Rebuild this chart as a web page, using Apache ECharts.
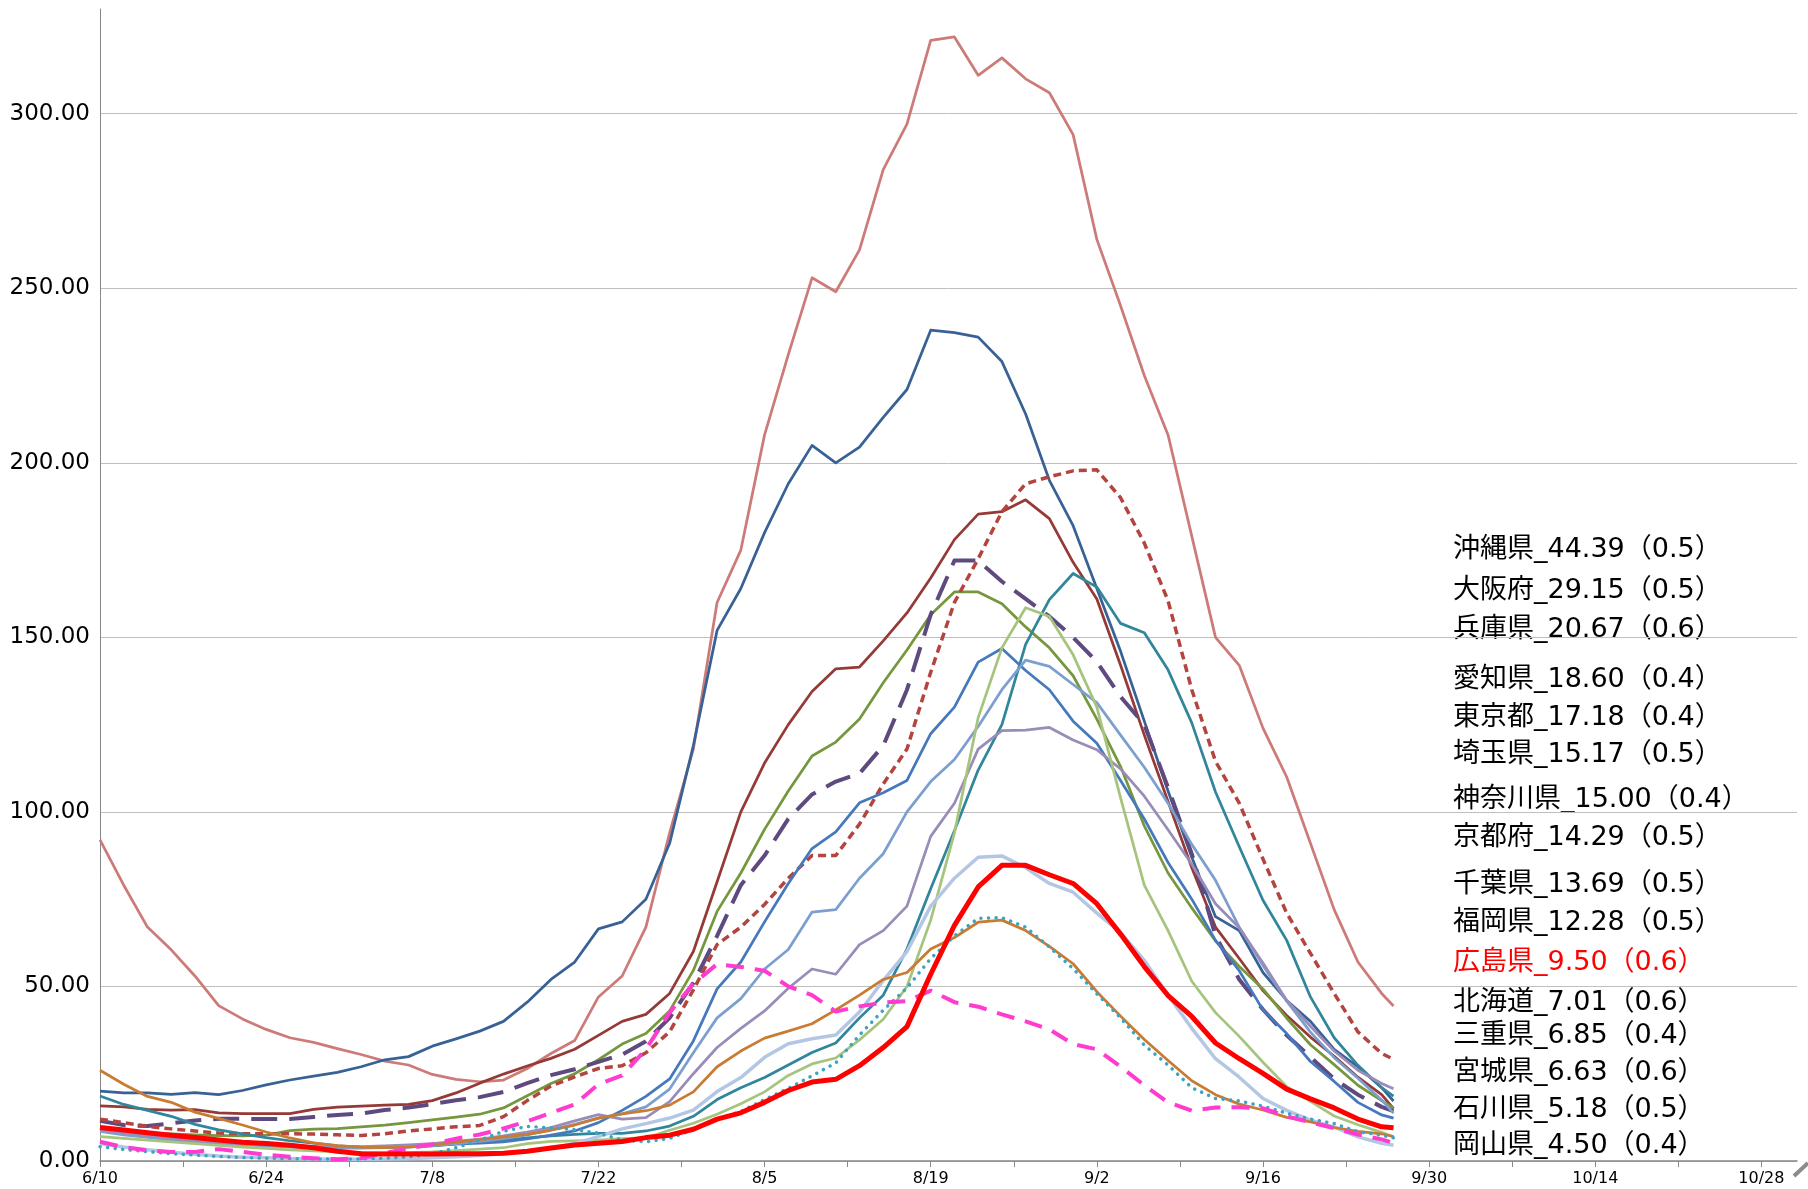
<!DOCTYPE html>
<html>
<head>
<meta charset="utf-8">
<script src="https://cdn.jsdelivr.net/npm/echarts@6/dist/echarts.min.js"></script>
<style>
  html, body { margin: 0; padding: 0; background: #fff; }
  #chart { width: 1808px; height: 1189px; }
</style>
</head>
<body>
<div id="chart"></div>
<script>
// days counted from 6/10 (sampled every 2 days, last point 9/27)
const days = [0,2,4,6,8,10,12,14,16,18,20,22,24,26,28,30,32,34,36,38,40,42,44,46,48,50,52,54,56,58,
  60,62,64,66,68,70,72,74,76,78,80,82,84,86,88,90,92,94,96,98,100,102,104,106,108,109];

// x tick labels, one every 14 days
const tickLabels = ['6/10','6/24','7/8','7/22','8/5','8/19','9/2','9/16','9/30','10/14','10/28'];

const okinawa = [92,79,67,60.5,53,44.5,40.7,37.7,35.3,34,
  32.2,30.5,28.6,27.5,24.8,23.4,22.7,23.2,26.5,30.8,
  34.5,47,53,67,94,118,160,175,208,231,
  253,249,261,284,297,321,322,311,316,310,
  306,294,264,245,225,208,179,150,142,124,
  110,91,72,57,48,44.39];
const tokyo = [20,19.5,19.5,19.1,19.6,19,20.2,21.8,23.2,24.3,
  25.4,27,29,29.9,32.9,35,37.2,40,45.5,52,
  57,66.5,68.5,75,91,119,152,164,180,194,
  205,200,204.5,213,221,238,237.3,236,229,214,
  195,182,164,146,126,106,87,70,66,54,
  46,40,32,27,21,17.18];
const kanagawa = [15.8,15.5,14.8,14.6,14.7,13.8,13.6,13.6,13.6,14.8,
  15.4,15.7,16,16.2,17.3,19.5,22.3,24.9,27.2,29.4,
  32,36,40,42,48,60,80,100,114,125,
  134.5,141,141.5,149,157,167,178,185.3,186,189.4,
  184,171.5,161,142,122,103,84,67,58,48.8,
  41.7,35.5,30,24,19,15.00];
const saitama = [9,8.5,8,7.8,7.5,7.3,7.2,7.4,8.7,9.1,
  9.3,9.8,10.3,11,11.8,12.6,13.4,15.2,18.7,22.2,
  25,29,33.5,36.5,43,54.6,71.5,82.5,95,106,
  116,120,126.6,137,146.4,156.5,163,163,159.6,153,
  147,139,126.6,113,96,82.5,72.5,63,55.7,49.3,
  40.9,33.3,27.6,21.7,17.3,15.17];
const kyoto = [11.5,10.3,10,10.8,11.6,12.1,12.1,12,12,12.6,
  13.2,13.6,14.6,15.3,16.3,17.4,18.3,19.8,22.3,24.6,
  26.3,28.4,30.5,34.3,41,51,64.5,79,87.5,98,
  105,108.7,111,119,135,156.5,172,172,166,161,
  156,150,143,133,125,107,88,64.5,52,43.4,
  36,29.8,23.5,19,15.5,14.29];
const osaka = [12,11,9.9,9.2,8.6,8,7.8,7.8,7.8,7.7,
  7.5,7.3,7.8,8.6,9.2,9.8,10.2,12.7,17.3,21.5,
  24.1,26.5,27.3,31,37,49,62,67,73.5,81,
  87.5,87.5,96.5,108,118,140,160,172.5,186,194,
  196,197.7,198,190,177,160.5,135,114.5,102.5,86.5,
  71,59.5,48,37,30.8,29.15];
const aichi = [18.6,16.2,14.5,12.8,10.5,8.9,7.8,6.7,5.8,5.1,
  4.3,4,3.9,4.1,4.3,5,5.4,5.9,6.6,7.2,
  7.6,7.9,7.9,8.6,10,12.8,17.6,21,23.9,27.5,
  31.1,33.8,41,47.5,60.7,78,94.6,112,125,148,
  160.8,168.3,164.4,154,151.3,140.7,125.5,105.7,90,74.7,
  63.2,47,35.3,27.4,21,18.60];
const fukuoka = [9.6,8.5,7.5,6.6,6,5.4,4.9,4.4,4.1,3.9,
  3.8,3.8,3.9,4.1,4.4,4.8,5.1,5.5,6.3,7.4,
  8.6,11,14.5,18.5,23.5,34.4,49.3,57,68.5,79.5,
  89.5,94.3,102.6,105.5,109,122.4,130,142.9,146.8,140.5,
  135,126,119.7,109,98,85.5,75,63.2,54.5,43.3,
  36.5,28.5,22.8,16.8,13.2,12.28];
const chiba = [8.5,7.5,6.8,6,5.4,5,4.6,4.3,4,3.8,
  3.7,3.7,3.8,4,4.4,5,5.6,6.4,7.5,9,
  10.5,12.3,13.5,15.5,20.6,31,41,46.5,55,60.6,
  71.3,72,81,88,100,108.7,115,124.5,135,143.5,
  141.7,136.5,131.3,122,112.8,102.5,90.7,80.4,67,56,
  45.8,36.9,29.6,23.7,17.5,13.69];
const hyogo = [9,8,7.2,6.4,5.8,5.3,5,4.7,4.4,4.2,
  4.1,4.1,4.3,4.6,5,5.6,6.3,7.2,8.3,9.6,
  11.5,13.3,12,12.4,17,25,32.5,38,43,49.5,
  55,53.5,62,66,73,93,102.5,118,123.3,123.4,
  124.2,120.6,117.8,112.3,104.5,94.9,85,73.7,66.8,56.7,
  46,38.6,31.5,26,22.2,20.67];
const mie = [7,6.5,6,5.5,5,4.5,4,3.6,3.2,2.9,
  2.6,2.4,2.3,2.4,2.6,3,3.4,3.8,5,5.6,
  5.8,6,6.4,6.6,8.8,10.8,13.4,16.4,19.8,24.5,
  27.8,29.5,34.7,40.6,50,69,94,127,147,158.5,
  156,145,130,104,79,66,51.5,42.5,35.7,28.3,
  21.3,17.1,12.9,10.4,8.2,6.85];
const okayama = [5,4,3.2,2.5,1.9,1.4,1.1,0.9,0.7,0.6,
  0.5,0.5,0.6,0.7,0.9,1.2,1.6,2.1,2.8,3.6,
  5,7,9.2,10.7,12.3,14.6,19.9,23.9,29.7,33.6,
  35,36.1,42.7,51.7,60,73,81,87,87.4,84,
  79.5,77,71,65.4,57.5,47.5,38,29.3,24,17.9,
  14.5,11.7,9.7,6.9,5.1,4.50];
const hokkaido = [26,22,18.5,16.8,14,12.2,10.3,8.3,6.6,5.2,
  4.4,4,3.8,4,4.6,5.4,6.1,6.9,7.6,8.8,
  10.3,12.3,13.5,14.4,16,19.8,27,31.5,35.2,37.2,
  39.3,43.3,47.5,52,54,60.7,64,68.4,69,66,
  61.5,56.5,48.5,41.5,34.8,28.8,23,19,16.3,14.6,
  12.5,11.2,9.6,8.5,7.8,7.01];
const miyagi = [4.1,3.3,2.7,2.1,1.7,1.3,1,0.8,0.7,0.6,
  0.5,0.6,0.8,1.2,2,3.8,6,8.5,9.9,9.5,
  9,8,6,5.5,6.5,9,12,14.2,17.6,20.8,
  24.4,28.1,36.1,43.2,49.6,58,64.5,69.5,69.7,67,
  61.3,55.1,47.9,41,33.2,27.5,21,17.9,17.2,15.7,
  13.7,12,10.7,8.4,7.4,6.63];
const ishikawa = [5.5,4,3,2.6,2.6,3.4,2.6,1.8,1.2,0.8,
  0.5,0.8,2.3,3.6,4.8,6.4,7.6,9.3,11.4,13.8,
  16.2,22,24.5,32,42.5,50.8,56.4,55.6,54.5,50,
  47.5,42.8,44.3,45.4,45.8,48.8,45.5,44.2,42,40,
  37.7,33.5,32,27,21.7,16.8,14.4,15.3,15.4,15.1,
  12.8,11.1,9.4,7.6,6.2,5.18];
const hiroshima = [9.6,8.9,8.1,7.4,6.7,6,5.4,5,4.5,3.8,
  2.8,2.1,2,2,2,2.1,2.1,2.2,2.8,3.7,
  4.6,5.1,5.6,6.7,7.4,9.1,12,13.8,16.8,20.2,
  22.6,23.4,27.3,32.5,38.5,53.5,67.5,78.5,84.7,84.7,
  82,79.5,73.7,65,55.7,47.4,41.4,33.8,29.3,25.1,
  20.6,17.8,15.2,12,9.8,9.50];

// annotation texts on the right
const noteTexts = ['沖縄県_44.39（0.5）','大阪府_29.15（0.5）','兵庫県_20.67（0.6）','愛知県_18.60（0.4）',
  '東京都_17.18（0.4）','埼玉県_15.17（0.5）','神奈川県_15.00（0.4）','京都府_14.29（0.5）',
  '千葉県_13.69（0.5）','福岡県_12.28（0.5）','広島県_9.50（0.6）','北海道_7.01（0.6）',
  '三重県_6.85（0.4）','宮城県_6.63（0.6）','石川県_5.18（0.5）','岡山県_4.50（0.4）'];
const noteY = [550,591,630,680,718,755,800,838,885,923,963,1003,1036,1073,1110,1146];

// drawing order, bottom to top
const seriesDefs = [
  { name: '沖縄県', data: okinawa, color: '#CD7B78', width: 2.75 },
  { name: '東京都', data: tokyo, color: '#386295', width: 2.75 },
  { name: '神奈川県', data: kanagawa, color: '#953A36', width: 2.75 },
  { name: '埼玉県', data: saitama, color: '#76973E', width: 2.75 },
  { name: '京都府', data: kyoto, color: '#5F4A7F', width: 4, dash: [26, 12] },
  { name: '大阪府', data: osaka, color: '#B3443F', width: 3.5, dash: [8, 5] },
  { name: '愛知県', data: aichi, color: '#31869C', width: 2.75 },
  { name: '福岡県', data: fukuoka, color: '#4679BC', width: 2.75 },
  { name: '千葉県', data: chiba, color: '#7C9FD0', width: 2.75 },
  { name: '兵庫県', data: hyogo, color: '#9A8CB9', width: 2.75 },
  { name: '三重県', data: mie, color: '#A6C47E', width: 2.75 },
  { name: '岡山県', data: okayama, color: '#B3C7E4', width: 3.5 },
  { name: '北海道', data: hokkaido, color: '#CA7B32', width: 2.75 },
  { name: '宮城県', data: miyagi, color: '#3AA5C2', width: 3.5, dash: [0.1, 7.5], cap: 'round' },
  { name: '石川県', data: ishikawa, color: '#FF3BD0', width: 4, dash: [18, 11] },
  { name: '広島県', data: hiroshima, color: '#FF0000', width: 5 }
];

const chart = echarts.init(document.getElementById('chart'));

const series = seriesDefs.map(s => ({
  name: s.name,
  type: 'line',
  data: s.data.map((v, i) => [days[i], v]),
  symbol: 'none',
  showSymbol: false,
  silent: true,
  lineStyle: {
    color: s.color,
    width: s.width,
    type: s.dash || 'solid',
    cap: s.cap || 'butt',
    join: 'round'
  },
  itemStyle: { color: s.color }
}));

const labelTicks = tickLabels.map((t, i) => i * 14);
const weekTicks = [];
for (let d = 0; d <= 140; d += 7) weekTicks.push(d);

const graphics = noteTexts.map((t, i) => ({
  type: 'text',
  x: 1453,
  y: noteY[i],
  silent: true,
  style: {
    text: t,
    font: '27px "DejaVu Sans", "Noto Sans CJK JP"',
    fill: t.indexOf('広島県') === 0 ? '#FF0000' : '#000000',
    verticalAlign: 'middle'
  }
}));
// axis break mark at the right end of the x axis
graphics.push({
  type: 'line',
  silent: true,
  shape: { x1: 1794, y1: 1176, x2: 1808, y2: 1163 },
  style: { stroke: '#8C8C8C', lineWidth: 4 }
});

const option = {
  animation: false,
  backgroundColor: '#fff',
  grid: { left: 100, right: 11, top: 9, bottom: 28, containLabel: false },
  xAxis: {
    type: 'value',
    min: 0,
    max: 143,
    interval: 14,
    axisLine: { show: true, lineStyle: { color: '#868686', width: 1.5 } },
    axisTick: { show: true, customValues: weekTicks, length: 6, lineStyle: { color: '#868686' } },
    axisLabel: {
      customValues: labelTicks,
      formatter: v => (v % 14 === 0 ? (tickLabels[v / 14] || '') : ''),
      color: '#000',
      fontFamily: 'DejaVu Sans',
      fontSize: 16,
      margin: 10
    },
    splitLine: { show: false }
  },
  yAxis: {
    type: 'value',
    min: 0,
    max: 330,
    interval: 50,
    axisLine: { show: true, lineStyle: { color: '#868686', width: 1 } },
    axisTick: { show: false },
    axisLabel: {
      formatter: v => (v % 50 === 0 ? v.toFixed(2) : ''),
      showMaxLabel: false,
      color: '#000',
      fontFamily: 'DejaVu Sans',
      fontSize: 23,
      margin: 10
    },
    splitLine: { show: true, showMaxLine: false, lineStyle: { color: '#BFBFBF', width: 1 } }
  },
  graphic: graphics,
  series: series
};

chart.setOption(option);
</script>
</body>
</html>
